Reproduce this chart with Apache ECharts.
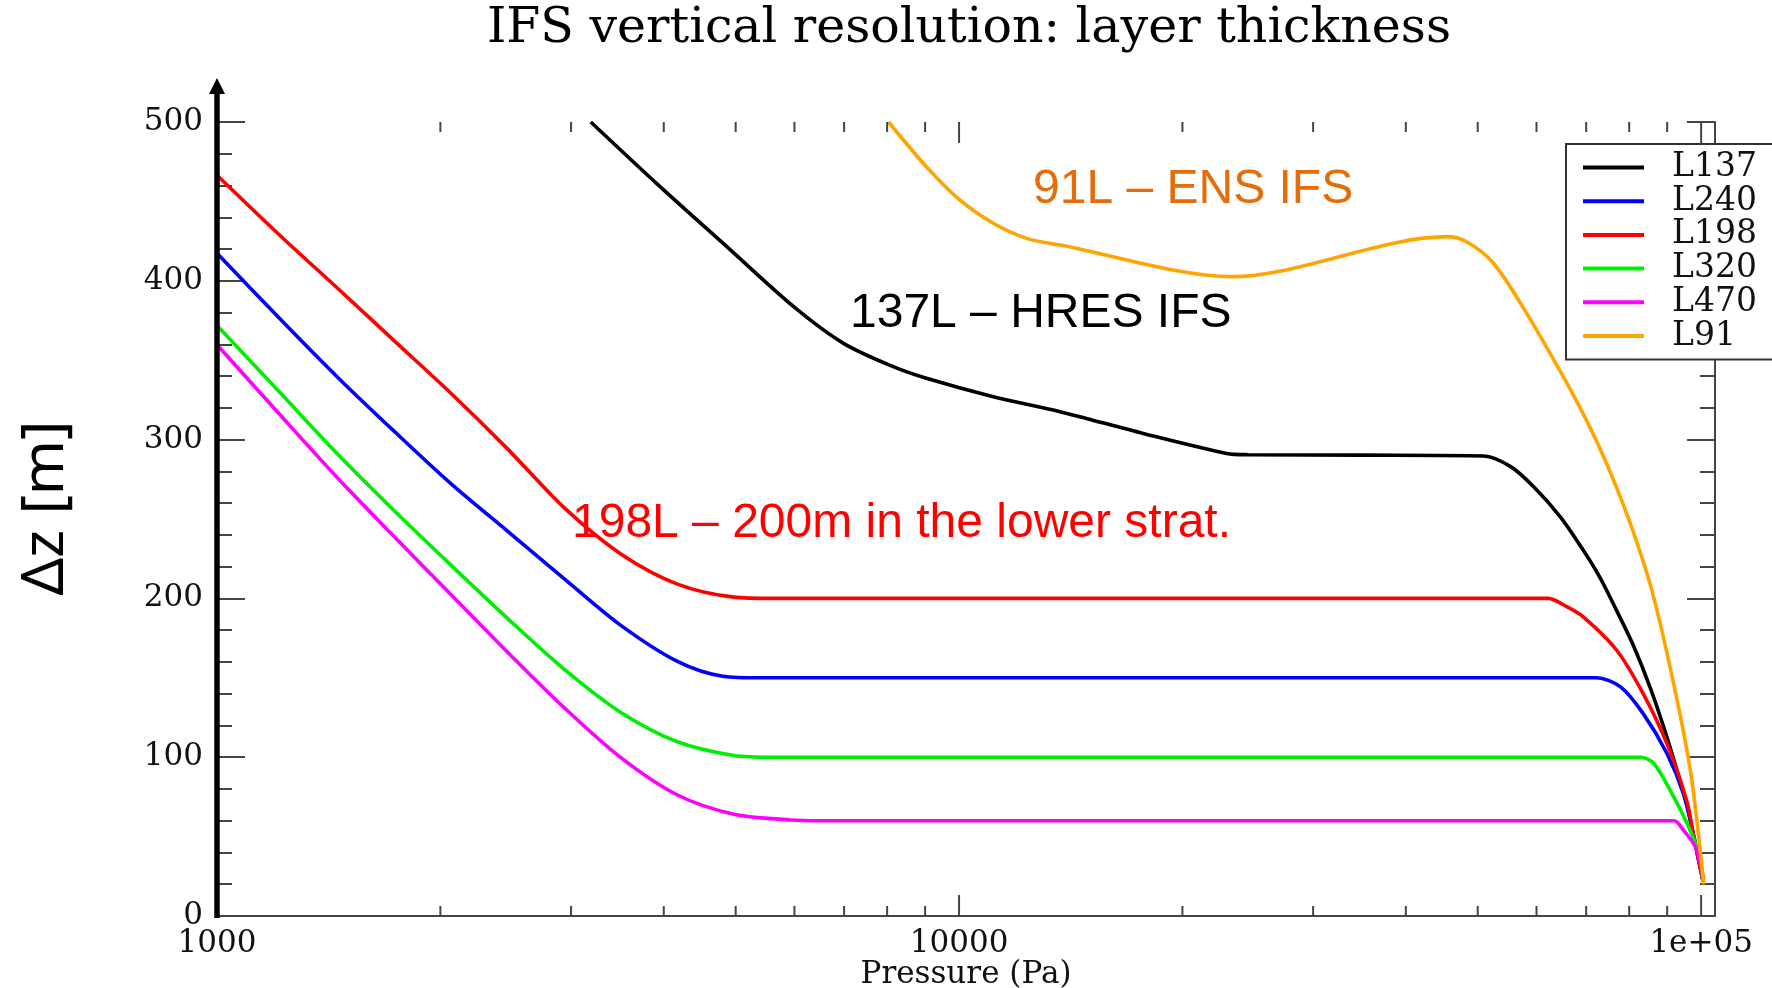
<!DOCTYPE html>
<html><head><meta charset="utf-8">
<script src="https://cdn.jsdelivr.net/npm/echarts@6/dist/echarts.min.js"></script>
<style>html,body{margin:0;padding:0;background:#fff}#c{width:1772px;height:988px}</style>
</head><body><div id="c"></div>
<script>
// ---- data (pressure Pa, layer thickness m) ----
const seriesNames = ['L137', 'L240', 'L198', 'L320', 'L470', 'L91'];
const L137 = [[3189,500],[3954,459.3],[4864,421.5],[5986,383.7],[6987,360.6],[8152,345.9],[9036,338.6],[11120,327.0],[13680,317.6],[17700,303.9],[22940,291.3],[24500,290.5],[35000,290.2],[50950,289.7],[55380,283],[59480,270.3],[64600,251.4],[69000,232],[73100,213],[77000,192],[81100,170],[85500,143],[89900,112.9],[93000,90],[95700,70],[97900,48],[100600,22]];
const L240 = [[1000,417.4],[1222,375],[1456,339],[1735,305],[2068,272.1],[2465,242.2],[2938,212.3],[3501,183.0],[4173,160.3],[4802,151.0],[5400,150],[72300,150],[77800,144.4],[83500,127.6],[89900,102.5],[94600,77.3],[97900,49],[100600,22]];
const L198 = [[1000,466.5],[1222,427.6],[1456,395],[1735,362],[2068,329],[2465,294],[2938,257],[3501,228],[4173,209],[4973,200.8],[5600,200],[62200,200],[65900,194.8],[69300,188.5],[76900,167.5],[83500,140.2],[89900,108.7],[95700,72],[97900,48],[100600,22]];
const L320 = [[1000,371.8],[1222,328.5],[1456,290.6],[1735,255.0],[2068,220.8],[2465,187.3],[2938,155.3],[3501,128.2],[4173,109.7],[4973,101.1],[5600,100],[82800,100],[86300,96.2],[90800,79.3],[95700,58.4],[99300,39.5],[100600,22]];
const L470 = [[1000,359.7],[1222,314.5],[1456,275.5],[1735,238.6],[2068,202.3],[2465,166.0],[2938,131.1],[3501,99.7],[4173,76.2],[4973,64.1],[5929,60.5],[6500,60],[91900,60],[94600,54.2],[98200,43.6],[100000,31],[100600,24]];
const L91 = [[8035,500],[9036,471.8],[10020,450.9],[11120,436.2],[12330,426.7],[13680,422.5],[23290,402.6],[45400,427.8],[48300,424.6],[52470,411.2],[58200,379.5],[64600,343],[68700,320],[72800,296],[76900,270],[81000,242],[85300,209.5],[88500,180],[91800,146.5],[94300,120],[96700,92],[98700,60],[100800,20]];
const seriesData = [L137, L240, L198, L320, L470, L91];
const seriesColors = ['#000000', '#0000ff', '#ff0000', '#00ee00', '#ff00ff', '#ffa500'];

const xTickValues = [1000, 10000, 100000];
const xTickLabels = ['1000', '10000', '1e+05'];
const xMinorTicks = [2000,3000,4000,5000,6000,7000,8000,9000,20000,30000,40000,50000,60000,70000,80000,90000];
const xMin = 1000, xMax = 104400;
const yMin = 0, yMax = 500, yStep = 100;

const annotations = [
  {text: '91L \u2013 ENS IFS', color: '#e46c0a'},
  {text: '137L \u2013 HRES IFS', color: '#000000'},
  {text: '198L \u2013 200m in the lower strat.', color: '#ff0000'}
];
const annotationPos = [[1033, 190], [850, 314], [572, 524]];

// ---- chart ----
const chart = echarts.init(document.getElementById('c'), null, {renderer: 'canvas'});
const frameColor = '#444';
const serif = 'DejaVu Serif';

const tickData = xTickValues.map(v => [v, 1]).concat(xMinorTicks.map(v => [v, 0]));

const lineSeries = seriesNames.map((n, i) => ({
  name: n, type: 'line', data: seriesData[i], showSymbol: false, symbol: 'none',
  smooth: 0.3, color: seriesColors[i],
  lineStyle: {width: 3.6, color: seriesColors[i]}, z: 2 + i * 0.01, silent: true
}));

const yAxisCommon = {
  type: 'value', min: yMin, max: yMax, interval: yStep,
  splitLine: {show: false},
  axisTick: {show: true, inside: true, length: 28, lineStyle: {color: frameColor, width: 2}},
  minorTick: {show: true, splitNumber: 5, length: 15, lineStyle: {color: frameColor, width: 2}},
};

chart.setOption({
  animation: false,
  backgroundColor: '#ffffff',
  grid: {left: 217, right: 57, top: 122, bottom: 72, containLabel: false, outerBoundsMode: 'none'},
  xAxis: [
    {type: 'log', min: xMin, max: xMax, position: 'bottom',
     axisLine: {show: true, lineStyle: {color: frameColor, width: 2}},
     axisTick: {show: false}, minorTick: {show: false}, splitLine: {show: false},
     axisLabel: {show: true, margin: 12, color: '#111', fontFamily: serif, fontSize: 31,
       showMaxLabel: false, hideOverlap: false,
       formatter: v => { const i = xTickValues.findIndex(t => Math.abs(t - v) / t < 1e-6); return i >= 0 ? xTickLabels[i] : ''; }},
     name: 'Pressure (Pa)', nameLocation: 'middle', nameGap: 43, nameMoveOverlap: false,
     nameTextStyle: {fontFamily: serif, fontSize: 31, color: '#111'}},
    {type: 'log', min: xMin, max: xMax, position: 'top',
     axisLine: {show: true, lineStyle: {color: frameColor, width: 2}},
     axisTick: {show: false}, minorTick: {show: false}, splitLine: {show: false},
     axisLabel: {show: false}}
  ],
  yAxis: [
    Object.assign({}, yAxisCommon, {position: 'left',
      axisLine: {show: false},
      axisLabel: {show: true, margin: 14, color: '#111', fontFamily: serif, fontSize: 31,
        verticalAlign: 'middle', hideOverlap: false}}),
    Object.assign({}, yAxisCommon, {position: 'right',
      axisLine: {show: true, lineStyle: {color: frameColor, width: 2}},
      axisLabel: {show: false}})
  ],
  legend: {
    show: true, orient: 'vertical', left: 1566, top: 144,
    padding: [7, 80, 7, 17], itemWidth: 61, itemHeight: 4, itemGap: 0.7, icon: 'rect',
    borderColor: '#333', borderWidth: 2, backgroundColor: '#ffffff',
    textStyle: {fontFamily: serif, fontSize: 33, lineHeight: 31, color: '#111', padding: [0, 0, 0, 23]},
    data: seriesNames, selectedMode: false
  },
  graphic: [
    {type: 'text', x: 969, y: 29, silent: true,
     style: {text: 'IFS vertical resolution: layer thickness', fontFamily: serif, fontSize: 49,
       fill: '#000', align: 'center', verticalAlign: 'middle', textAlign: 'center', textVerticalAlign: 'middle'}},
    {type: 'text', x: 46, y: 508, rotation: Math.PI / 2, silent: true,
     style: {text: '\u0394z [m]', fontFamily: 'Noto Sans', fontSize: 59, fill: '#000',
       align: 'center', verticalAlign: 'middle', textAlign: 'center', textVerticalAlign: 'middle'}}
  ].concat(annotations.map((a, i) => ({
    type: 'text', x: annotationPos[i][0], y: annotationPos[i][1], silent: true, z: 10,
    style: {text: a.text, fontFamily: 'Liberation Sans', fontSize: 48, fill: a.color,
      align: 'left', verticalAlign: 'middle', textAlign: 'left', textVerticalAlign: 'middle'}
  }))),
  series: lineSeries.concat([
    {type: 'custom', name: 'xticks', silent: true, clip: false, z: 5, data: tickData,
     renderItem: (params, api) => {
       const v = api.value(0), major = api.value(1);
       const b = api.coord([v, yMin]), t = api.coord([v, yMax]);
       const len = major ? 21 : 10;
       return {type: 'group', children: [
         {type: 'line', shape: {x1: b[0], y1: b[1], x2: b[0], y2: b[1] - len}, style: {stroke: frameColor, lineWidth: 2}},
         {type: 'line', shape: {x1: t[0], y1: t[1], x2: t[0], y2: t[1] + len}, style: {stroke: frameColor, lineWidth: 2}}
       ]};
     }},
    {type: 'custom', name: 'arrow', silent: true, clip: false, z: 6, data: [[xMin, yMin]],
     renderItem: (params, api) => {
       const b = api.coord([xMin, yMin]), t = api.coord([xMin, yMax]);
       const x = b[0];
       return {type: 'group', children: [
         {type: 'line', shape: {x1: x, y1: b[1] + 2, x2: x, y2: t[1] - 32}, style: {stroke: '#000', lineWidth: 5.5}},
         {type: 'polygon', shape: {points: [[x, t[1] - 44], [x - 8, t[1] - 28], [x + 8, t[1] - 28]]}, style: {fill: '#000'}}
       ]};
     }}
  ])
});
</script></body></html>
